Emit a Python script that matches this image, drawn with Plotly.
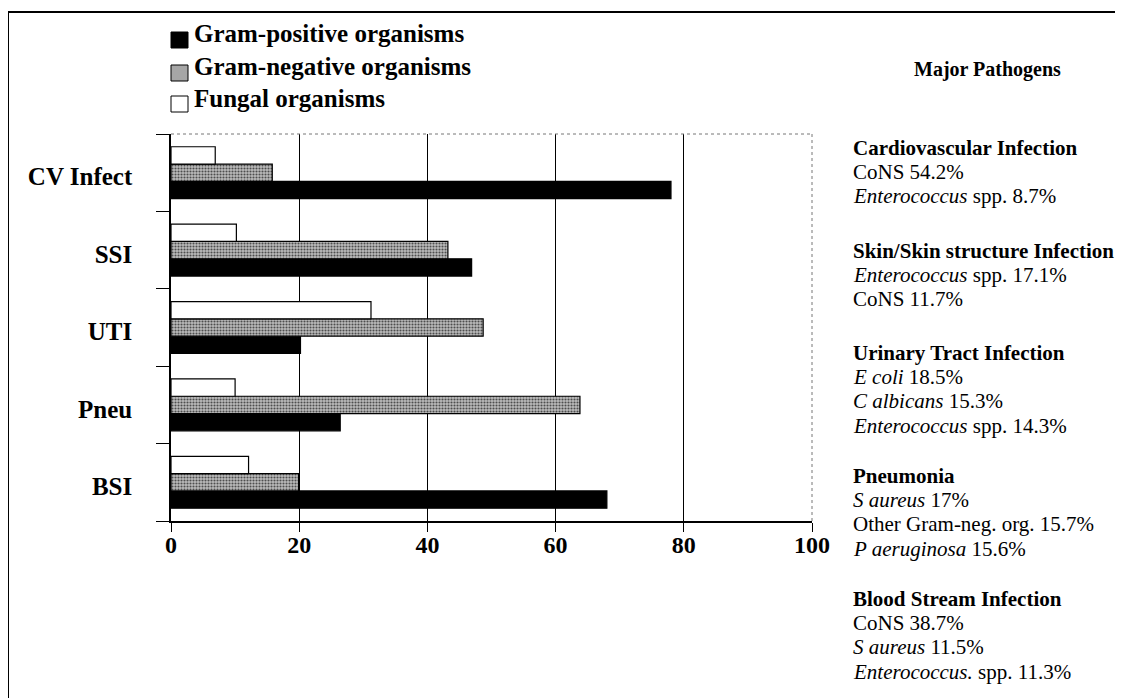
import plotly.graph_objects as go

# ---------------- data ----------------
categories = ["CV Infect", "SSI", "UTI", "Pneu", "BSI"]
gram_positive = [78.0, 46.9, 20.2, 26.4, 68.0]
gram_negative = [15.8, 43.2, 48.7, 63.8, 19.9]
fungal = [6.9, 10.2, 31.2, 10.0, 12.1]
series_names = ["Gram-positive organisms", "Gram-negative organisms", "Fungal organisms"]
x_ticks = [0, 20, 40, 60, 80, 100]

side_title = "Major Pathogens"
pathogen_blocks = [
    ["Cardiovascular Infection", "CoNS 54.2%", "<i>Enterococcus</i> spp. 8.7%"],
    ["Skin/Skin structure Infection", "<i>Enterococcus</i> spp. 17.1%", "CoNS 11.7%"],
    ["Urinary Tract Infection", "<i>E coli</i> 18.5%", "<i>C albicans</i> 15.3%", "<i>Enterococcus</i> spp. 14.3%"],
    ["Pneumonia", "<i>S aureus</i> 17%", "Other Gram-neg. org. 15.7%", "<i>P aeruginosa</i> 15.6%"],
    ["Blood Stream Infection", "CoNS 38.7%", "<i>S aureus</i> 11.5%", "<i>Enterococcus.</i> spp. 11.3%"],
]

# ---------------- layout geometry (page pixels; body has 8px margin) ----------------
OFF = 8
W, H = 1123 - OFF, 698 - OFF
L, R, T, B = 171, 812, 134, 521          # plot area in page pixels
FONT = "Liberation Serif, Times New Roman, serif"


def px(x):
    return (x - L) / (R - L)


def py(y):
    return (B - y) / (B - T)


fig = go.Figure()
fig.add_trace(go.Bar(
    y=categories, x=gram_positive, orientation="h", name=series_names[0],
    marker=dict(color="#000000", line=dict(color="#000000", width=1.2)),
))
fig.add_trace(go.Bar(
    y=categories, x=gram_negative, orientation="h", name=series_names[1],
    marker=dict(color="#a8a8a8", line=dict(color="#000000", width=1.2),
                pattern=dict(shape=".", fgcolor="#4e4e4e", bgcolor="#bcbcbc",
                             size=3, solidity=0.4, fillmode="replace")),
))
fig.add_trace(go.Bar(
    y=categories, x=fungal, orientation="h", name=series_names[2],
    marker=dict(color="#ffffff", line=dict(color="#000000", width=1.2)),
))

fig.update_layout(
    width=W, height=H,
    margin=dict(l=L - OFF, r=W - (R - OFF), t=T - OFF, b=H - (B - OFF), pad=0),
    paper_bgcolor="white", plot_bgcolor="white",
    barmode="group", bargap=0.33, bargroupgap=0,
    showlegend=False,
    font=dict(family=FONT, color="black"),
)
fig.update_xaxes(
    range=[0, 100], tickvals=x_ticks, ticktext=[str(v) for v in x_ticks],
    showgrid=True, gridcolor="black", gridwidth=1,
    showline=True, linecolor="black", linewidth=1.5,
    ticks="outside", ticklen=9, tickcolor="black", tickwidth=1.2,
    ticklabelstandoff=-8,
    tickfont=dict(family=FONT, size=24, color="black", weight="bold"),
    zeroline=False, fixedrange=True,
)
fig.update_yaxes(
    categoryorder="array", categoryarray=categories[::-1],
    showgrid=False, showline=True, linecolor="black", linewidth=1.5,
    ticks="outside", ticklen=13, tickcolor="black", tickwidth=1.2,
    tickson="boundaries", ticklabelstandoff=32, ticklabelshift=4,
    tickfont=dict(family=FONT, size=25, color="black", weight="bold"),
    zeroline=False,
)

shapes = []
# dotted top and right border of plot area
shapes.append(dict(type="line", xref="paper", yref="paper", x0=0, x1=1, y0=1, y1=1,
                   line=dict(color="#777777", width=1, dash="dot")))
shapes.append(dict(type="line", xref="paper", yref="paper", x0=1, x1=1, y0=0, y1=1,
                   line=dict(color="#777777", width=1, dash="dot")))
# outer frame (top and left)
shapes.append(dict(type="line", xref="paper", yref="paper", x0=px(8), x1=px(1130), y0=py(12), y1=py(12),
                   line=dict(color="black", width=2)))
shapes.append(dict(type="line", xref="paper", yref="paper", x0=px(8), x1=px(8), y0=py(12), y1=py(705),
                   line=dict(color="black", width=2)))

# manual legend
legend_fill = ["#000000", "#a6a6a6", "#ffffff"]
legend_rows = [(32, 48, 41), (65, 81, 74), (96, 112, 107)]
annotations = []
for name, fill, (y0, y1, base) in zip(series_names, legend_fill, legend_rows):
    shapes.append(dict(type="rect", xref="paper", yref="paper",
                       x0=px(171), x1=px(188), y0=py(y1), y1=py(y0),
                       fillcolor=fill, line=dict(color="black", width=1)))
    annotations.append(dict(xref="paper", yref="paper", x=px(192), y=py(base - 8),
                            xanchor="left", yanchor="middle", showarrow=False,
                            text="<b>" + name + "</b>",
                            font=dict(family=FONT, size=25, color="black")))

# side text
annotations.append(dict(xref="paper", yref="paper", x=px(1063), y=py(76 - 7),
                        xanchor="right", yanchor="middle", showarrow=False,
                        text="<b>" + side_title + "</b>",
                        font=dict(family=FONT, size=20, color="black")))
block_baselines = [155, 258, 360, 483, 606]
line_step = 24.2
for base0, block in zip(block_baselines, pathogen_blocks):
    for i, line in enumerate(block):
        txt = "<b>" + line + "</b>" if i == 0 else line
        annotations.append(dict(xref="paper", yref="paper", x=px(851), y=py(base0 + i * line_step - 7),
                                xanchor="left", yanchor="middle", showarrow=False,
                                text=txt, font=dict(family=FONT, size=21, color="black")))

fig.update_layout(shapes=shapes, annotations=annotations)
fig.write_html("out.html")
